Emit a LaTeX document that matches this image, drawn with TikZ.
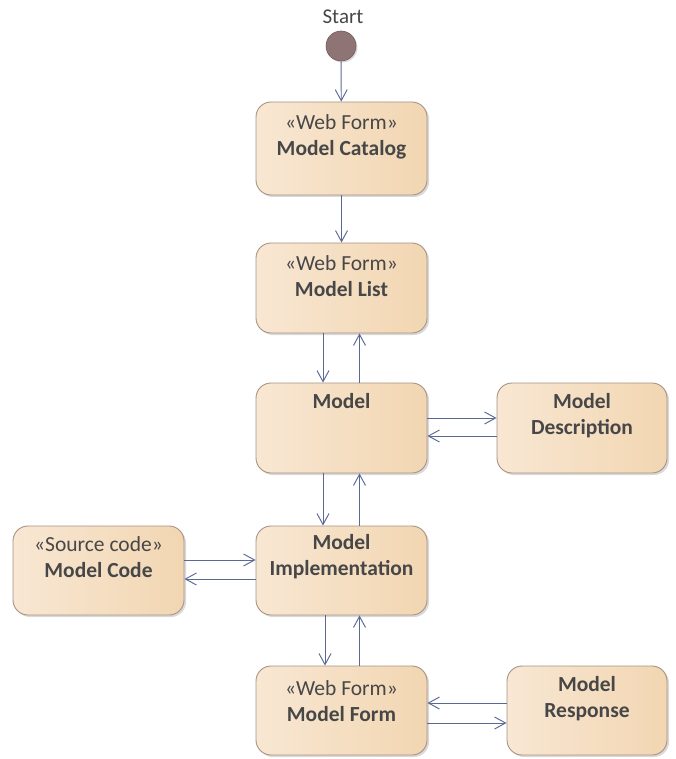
\documentclass[tikz,border=0pt]{standalone}
\usepackage{fontspec}
\setmainfont{Carlito}
\usetikzlibrary{arrows.meta,shadows,positioning}
\definecolor{boxL}{HTML}{F8E7D3}
\definecolor{boxR}{HTML}{F2D6B2}
\definecolor{boxB}{HTML}{A89282}
\definecolor{flowC}{HTML}{5B6894}
\definecolor{txtC}{HTML}{474747}
\definecolor{startC}{HTML}{8E7474}
\tikzset{
  actbox/.style={draw=boxB, line width=0.9pt, rounded corners=15pt,
    left color=boxL, right color=boxR, minimum width=#1, minimum height=90pt,
    inner sep=0pt, drop shadow={shadow xshift=2pt, shadow yshift=-2pt, opacity=0.3, fill=black!50}},
  actbox/.default=171pt,
  lbl/.style={anchor=north, align=center, text=txtC, font=\fontsize{21.5}{25.5}\selectfont, inner sep=0pt},
  flow/.style={draw=flowC, line width=0.95pt, -{Straight Barb[length=11pt,width=12pt,line width=0.95pt]}},
}
\begin{document}
\begin{tikzpicture}[x=1pt,y=-1pt]
\useasboundingbox (0,0) rectangle (676,759);
% initial node
\node[circle, draw=startC!80!black, line width=0.6pt, fill=startC, minimum size=30pt, inner sep=0pt,
  drop shadow={shadow xshift=1.5pt, shadow yshift=-1.5pt, opacity=0.3}] (start) at (341,46) {};
\node[text=txtC, font=\fontsize{21}{24}\selectfont, inner sep=0pt] (startlbl) at (343,17) {Start};
% activity boxes
\node[actbox, minimum height=93pt] (catalog) at (341.5,148.5) {};
\node[actbox] (list) at (341.5,288) {};
\node[actbox] (model) at (341.5,428) {};
\node[actbox=170pt] (desc) at (582,428) {};
\node[actbox, minimum height=89pt] (impl) at (341.5,570.5) {};
\node[actbox, minimum height=89pt] (code) at (98.5,570.5) {};
\node[actbox, minimum height=89pt] (form) at (341.5,710.5) {};
\node[actbox=160pt, minimum height=89pt] (resp) at (587,710.5) {};
% labels
\node[lbl] (catalogT) at ([yshift=-13pt]catalog.north) {«Web Form»\\\textbf{Model Catalog}};
\node[lbl] (listT) at ([yshift=-13pt]list.north) {«Web Form»\\\textbf{Model List}};
\node[lbl] (modelT) at ([yshift=-11pt]model.north) {\textbf{Model}};
\node[lbl] (descT) at ([yshift=-11pt]desc.north) {\textbf{Model}\\\textbf{Description}};
\node[lbl] (implT) at ([yshift=-9pt]impl.north) {\textbf{Model}\\\textbf{Implementation}};
\node[lbl] (codeT) at ([yshift=-11pt]code.north) {«Source code»\\\textbf{Model Code}};
\node[lbl] (formT) at ([yshift=-15pt]form.north) {«Web Form»\\\textbf{Model Form}};
\node[lbl] (respT) at ([yshift=-11pt]resp.north) {\textbf{Model}\\\textbf{Response}};
% lanes for paired flows
\coordinate (vd) at (323,0);
\coordinate (vu) at (359.5,0);
\coordinate (vd2) at (325,0);
\coordinate (hA) at (0,418);
\coordinate (hB) at (0,436);
\coordinate (hC) at (0,560);
\coordinate (hD) at (0,579);
\coordinate (hE) at (0,703);
\coordinate (hF) at (0,723);
% flows
\draw[flow] (start) -- (catalog);
\draw[flow] (catalog) -- (list);
\draw[flow] (list.south -| vd) -- (model.north -| vd);
\draw[flow] (model.north -| vu) -- (list.south -| vu);
\draw[flow] (model.east |- hA) -- (desc.west |- hA);
\draw[flow] (desc.west |- hB) -- (model.east |- hB);
\draw[flow] (model.south -| vd) -- (impl.north -| vd);
\draw[flow] (impl.north -| vu) -- (model.south -| vu);
\draw[flow] (code.east |- hC) -- (impl.west |- hC);
\draw[flow] (impl.west |- hD) -- (code.east |- hD);
\draw[flow] (impl.south -| vd2) -- (form.north -| vd2);
\draw[flow] (form.north -| vu) -- (impl.south -| vu);
\draw[flow] (resp.west |- hE) -- (form.east |- hE);
\draw[flow] (form.east |- hF) -- (resp.west |- hF);
\end{tikzpicture}
\end{document}
